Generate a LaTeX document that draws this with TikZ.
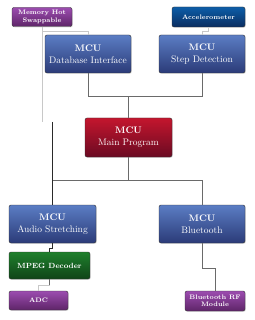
\documentclass[tikz,border=0pt]{standalone}
\usepackage{tikz}
\usetikzlibrary{arrows.meta, positioning, calc, shadows}
\definecolor{BoxBlueTop}{HTML}{5B7DC4}
\definecolor{BoxBlueBot}{HTML}{2B3B78}
\definecolor{AccBlueTop}{HTML}{0C5DA8}
\definecolor{AccBlueBot}{HTML}{0A2D60}
\definecolor{MainRedTop}{HTML}{C4162E}
\definecolor{MainRedBot}{HTML}{6A0A22}
\definecolor{DecGreenTop}{HTML}{1F7F2C}
\definecolor{DecGreenBot}{HTML}{0F4418}
\definecolor{IoPurpleTop}{HTML}{9C4CB0}
\definecolor{IoPurpleBot}{HTML}{5E2568}
\definecolor{WireDark}{HTML}{6A6A6A}
\definecolor{WireLight}{HTML}{C8C8C8}
\definecolor{WireBlack}{HTML}{2A2A2A}
\tikzset{
  unit/.style={draw=black!80, rounded corners=2pt, shading angle=30, align=center, text=white, inner sep=2pt, drop shadow={opacity=0.25, shadow xshift=0.8pt, shadow yshift=-0.8pt}},
  mcu/.style={unit, top color=BoxBlueTop, bottom color=BoxBlueBot, minimum width=86pt, minimum height=38pt, font=\fontsize{9.5}{12}\selectfont},
  mainmcu/.style={mcu, top color=MainRedTop, bottom color=MainRedBot},
  sensor/.style={unit, top color=AccBlueTop, bottom color=AccBlueBot, minimum height=20pt, font=\fontsize{6.5}{7.5}\selectfont\bfseries},
  iobox/.style={unit, top color=IoPurpleTop, bottom color=IoPurpleBot, minimum height=19pt, font=\fontsize{6.5}{7.5}\selectfont\bfseries},
  decoder/.style={unit, top color=DecGreenTop, bottom color=DecGreenBot, minimum height=27pt, font=\fontsize{7.5}{9}\selectfont\bfseries},
  darkwire/.style={draw=WireDark, line width=0.9pt},
  lightwire/.style={draw=WireLight, line width=0.9pt},
  blackwire/.style={draw=WireBlack, line width=0.9pt}
}
\begin{document}
\begin{tikzpicture}[x=1pt,y=-1pt]
\useasboundingbox[fill=white] (0,0) rectangle (254,320);

% top row
\node[iobox, minimum width=60pt] (mem) at (42,17) {Memory Hot\\Swappable};
\node[sensor, minimum width=73pt] (acc) at (208.5,17) {Accelerometer};
\node[mcu] (db) at (88,54) {\textbf{MCU}\\Database Interface};
\node[mcu] (step) at (202,54) {\textbf{MCU}\\Step Detection};

% middle
\node[mainmcu, minimum width=87pt, minimum height=39pt] (main) at (128.5,137.5) {\textbf{MCU}\\Main Program};

% bottom row
\node[mcu, minimum width=87pt] (audio) at (52.5,224) {\textbf{MCU}\\Audio Stretching};
\node[mcu] (bt) at (202,224) {\textbf{MCU}\\Bluetooth};
\node[decoder, minimum width=81pt] (mpeg) at (49.5,265.5) {MPEG Decoder};
\node[iobox, minimum width=59pt] (adc) at (38.5,300.5) {ADC};
\node[iobox, minimum width=60pt, minimum height=20pt] (rf) at (215,301) {Bluetooth RF\\Module};

\coordinate (memend) at (42,122);
\coordinate (audiowire) at (52.5,122);
\coordinate (topbus) at (128.5,96);
\coordinate (lowbus) at (128.5,180);

% wires
\draw[lightwire] (mem.south) -- (memend);
\draw[lightwire] (mem.south |- 0,31) -| (db.north);
\draw[lightwire] (acc.south) -- ++(0,4) -| (step.north);

\draw[darkwire] (db.south) |- (topbus) -- (main.north);
\draw[darkwire] (step.south) |- (topbus);

\draw[darkwire] (main.south) -- (lowbus) -| (bt.north);
\draw[darkwire] (lowbus) -- (audiowire |- lowbus);
\draw[blackwire] (audiowire) -- (audio.north);

\draw[blackwire] (audio.south) -- ++(0,5) -| (mpeg.north);
\draw[darkwire] (mpeg.south) -- ++(0,6) coordinate (adcjog);
\draw[lightwire] (adcjog) -| (adc.north);
\draw[darkwire] (bt.south) -- ++(0,25) -| (rf.north);
\end{tikzpicture}
\end{document}
